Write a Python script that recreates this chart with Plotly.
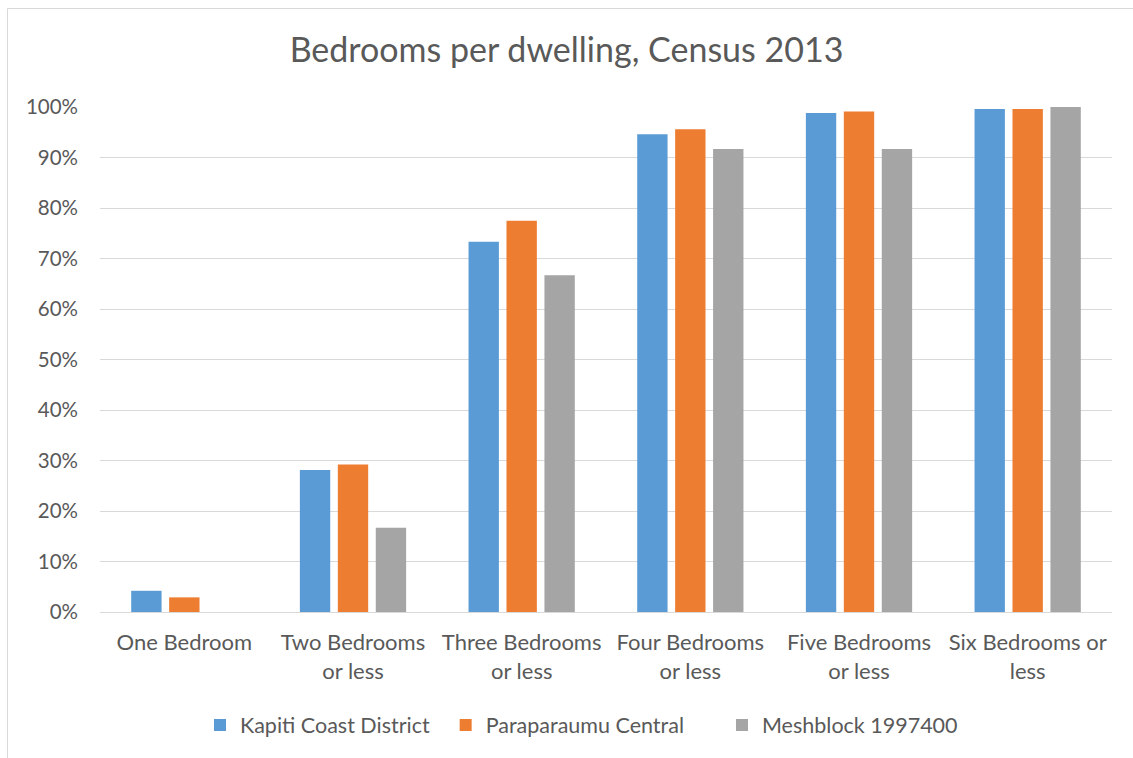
import plotly.graph_objects as go

categories = ["One Bedroom", "Two Bedrooms<br>or less", "Three Bedrooms<br>or less",
              "Four Bedrooms<br>or less", "Five Bedrooms<br>or less", "Six Bedrooms or<br>less"]
kapiti = [0.042, 0.281, 0.733, 0.946, 0.988, 0.996]
paraparaumu = [0.029, 0.292, 0.775, 0.956, 0.991, 0.996]
meshblock = [0.0, 0.167, 0.667, 0.917, 0.917, 1.0]

series = [
    ("Kapiti Coast District", kapiti, "#5b9bd5", 2),
    ("Paraparaumu Central", paraparaumu, "#ed7d31", 6),
    ("Meshblock 1997400", meshblock, "#a5a5a5", 0),
]

fig = go.Figure()
for name, vals, col, pad in series:
    fig.add_trace(go.Bar(x=categories, y=vals, name=name + "\u00a0" * pad,
                         marker_color=col, marker_line_width=0,
                         hovertemplate="%{y:.1%}<extra>" + name + "</extra>"))

W, H = 1133, 758
ml, mr, mt, mb = 100, 21, 107, 146
pw, ph = W - ml - mr, H - mt - mb

def px(x):
    return (x - ml) / pw

def py(y):
    return (H - mb - y) / ph

border = dict(color="#d9d9d9", width=1)
fig.update_layout(
    width=W, height=H,
    margin=dict(l=ml, r=mr, t=mt, b=mb),
    paper_bgcolor="white", plot_bgcolor="white",
    font=dict(family="Lato", color="#595959", size=20),
    title=dict(text="Bedrooms per dwelling, Census 2013", x=0.5, xanchor="center",
               y=1 - 50 / H, yanchor="middle",
               font=dict(size=34, color="#595959")),
    barmode="group", bargap=0.325, bargroupgap=0.2,
    showlegend=True,
    legend=dict(orientation="h", x=px(200), xanchor="left", y=py(725), yanchor="middle",
                font=dict(size=21.5, color="#595959"), itemwidth=30,
                traceorder="normal", borderwidth=0),
    shapes=[
        dict(type="line", xref="paper", yref="paper", x0=px(7.5), x1=px(7.5),
             y0=py(758), y1=py(8.5), line=border, layer="below"),
        dict(type="line", xref="paper", yref="paper", x0=px(7.5), x1=px(1133),
             y0=py(8.5), y1=py(8.5), line=border, layer="below"),
    ],
)
fig.update_yaxes(range=[0, 1], dtick=0.1, tickformat=".0%", gridcolor="#d9d9d9",
                 gridwidth=1, zeroline=False, showline=False, ticks="",
                 ticklabelstandoff=21, tickfont=dict(size=20.5, color="#595959"))
fig.update_xaxes(showline=True, linecolor="#d9d9d9", linewidth=1, ticks="",
                 tickfont=dict(size=22, color="#595959"), ticklabelstandoff=11)

fig.write_html("out.html", config={"displayModeBar": False},
               post_script="document.body.style.margin='0';document.body.style.padding='0';")
